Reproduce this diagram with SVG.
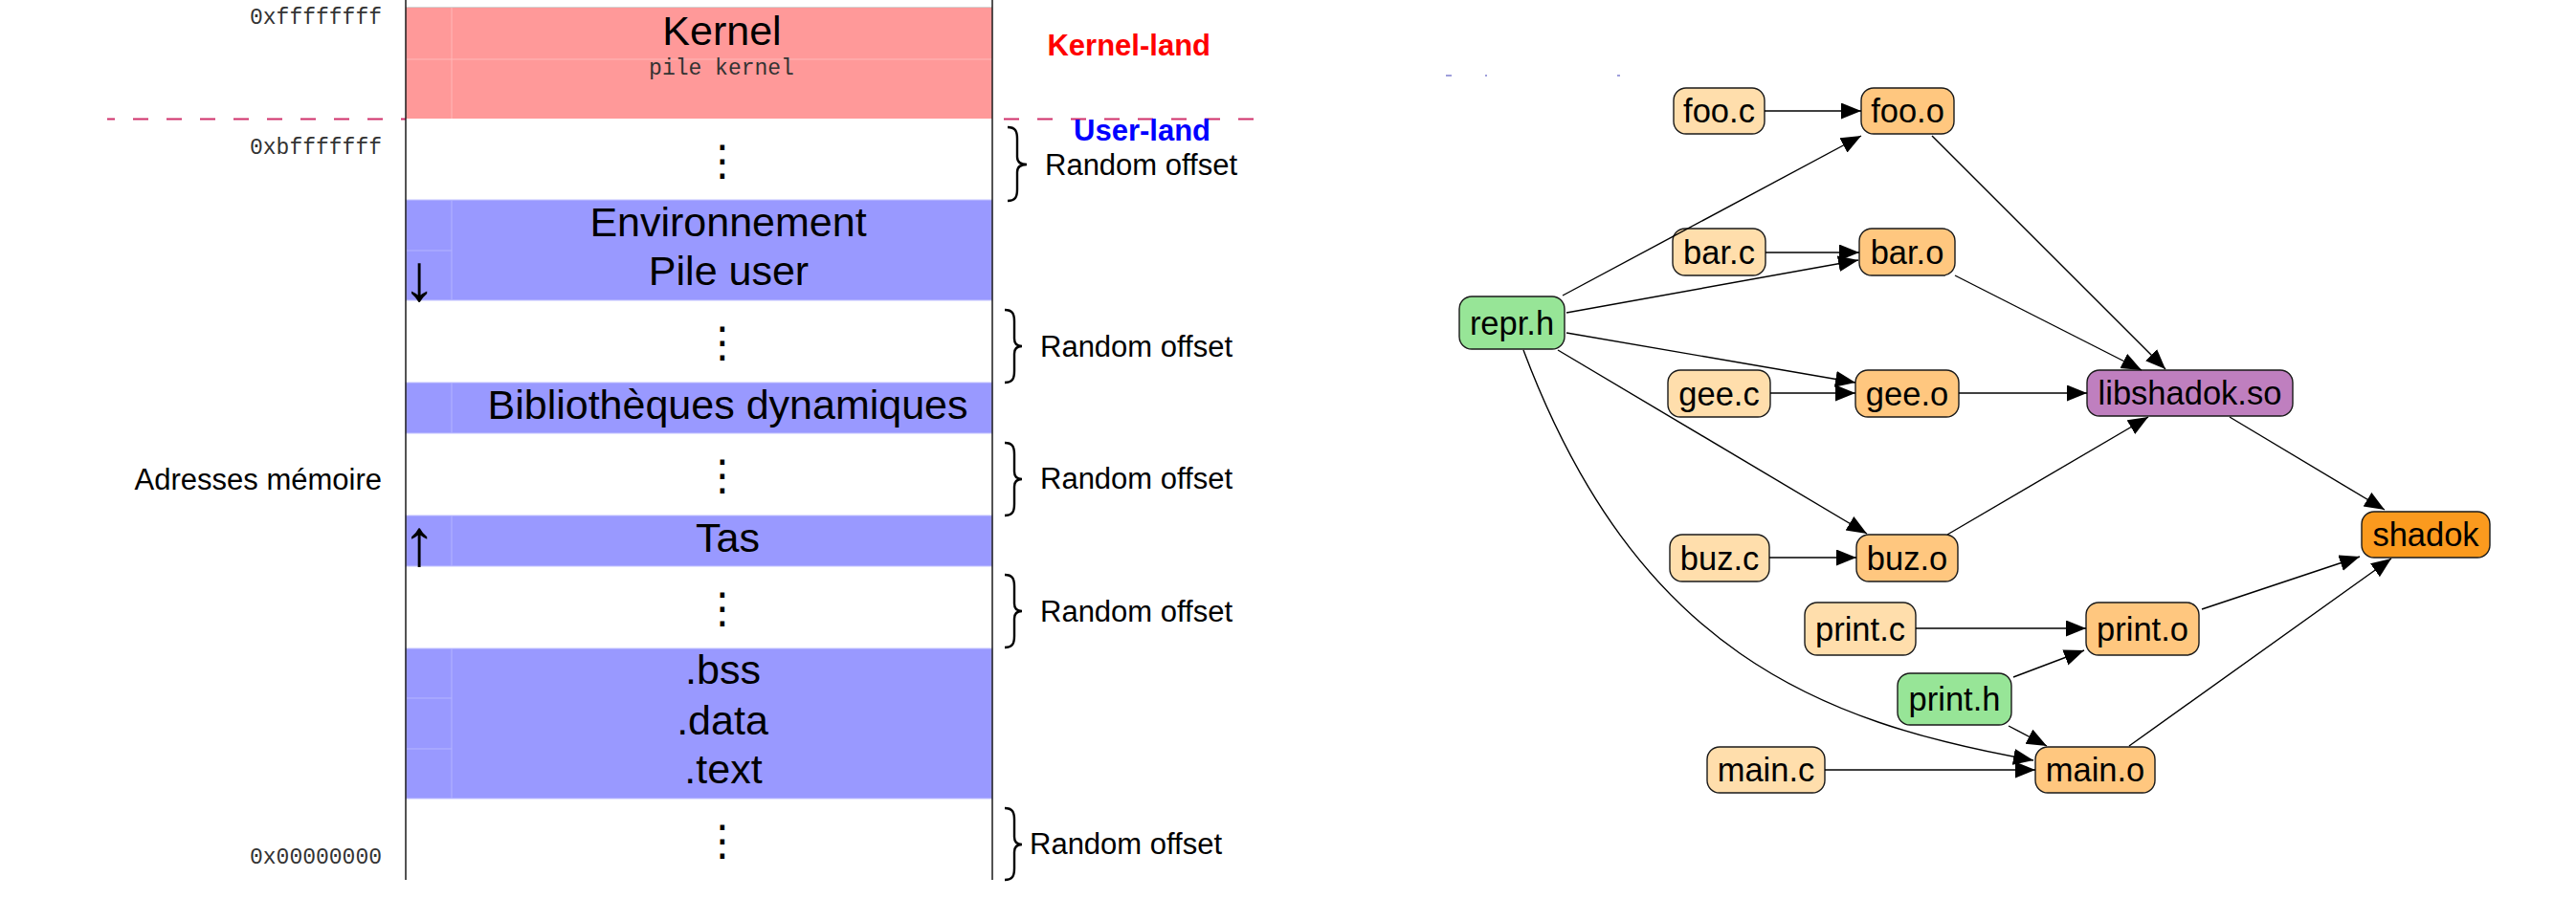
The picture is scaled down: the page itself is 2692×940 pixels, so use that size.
<svg xmlns="http://www.w3.org/2000/svg" width="2692" height="940" viewBox="0 0 2692 940">
<style>
.sans{font-family:"Liberation Sans",Arial,sans-serif;fill:#000}
.big{font-size:43px;text-anchor:middle}
.mono{font-family:"Liberation Mono","Courier New",monospace;font-size:23px;fill:#333}
.lbl{font-size:31px}
.land{font-size:31px;font-weight:bold;text-anchor:end}
.dots{font-family:"DejaVu Sans",sans-serif;font-size:44px;text-anchor:middle}
.arr{font-family:"Liberation Serif","DejaVu Serif",serif;font-size:69px;text-anchor:middle}
.brace{fill:none;stroke:#000;stroke-width:2.4}
.kern{fill:#ff9999}
.blue{fill:#9999ff;stroke:#c4c4ff;stroke-width:1}
.faintk{stroke:#ffb8b8;stroke-width:1}
.faintb{stroke:#b4b4ff;stroke-width:1}
.node rect{stroke:#1a1a1a;stroke-width:1.4}
.node text{font-family:"Liberation Sans",Arial,sans-serif;font-size:34.5px;text-anchor:middle;fill:#000}
.src rect{fill:#ffdeac}
.obj rect{fill:#ffc77f}
.hdr rect{fill:#97e597}
.lib rect{fill:#bf7fbf}
.exe rect{fill:#fb9a1e}
.edge{fill:none;stroke:#000;stroke-width:1.4;marker-end:url(#ah)}
</style>
<defs>
<marker id="ah" markerUnits="userSpaceOnUse" markerWidth="22" markerHeight="18" refX="21" refY="8.5" orient="auto" viewBox="0 0 22 18">
<path d="M0,0 L21,8.5 L0,17 z" fill="#000"/>
</marker>
</defs>
<rect x="0" y="0" width="2692" height="940" fill="#fff"/>

<!-- ===== Memory layout ===== -->
<g id="memory-layout">
  <line x1="112" y1="124.5" x2="1320" y2="124.5" stroke="#d0306a" stroke-width="2" stroke-dasharray="16 19" stroke-dashoffset="8"/>
  <rect x="424" y="8" width="613" height="912" fill="#fff"/>
  <line x1="424" y1="8" x2="1037" y2="8" stroke="#c4c4c4" stroke-width="1.5"/>

  <g id="row-kernel">
    <rect class="kern" x="424" y="8" width="613" height="116"/>
    <line class="faintk" x1="472" y1="8" x2="472" y2="124"/>
    <line class="faintk" x1="424" y1="62" x2="1037" y2="62"/>
    <text class="sans big" x="754.5" y="47">Kernel</text>
    <text class="mono" x="754" y="78" text-anchor="middle">pile kernel</text>
  </g>

  <g id="row-gap1"><text class="dots" x="755" y="183">⋮</text></g>

  <g id="row-env">
    <rect class="blue" x="424" y="209" width="613" height="105"/>
    <line class="faintb" x1="472" y1="209" x2="472" y2="314"/>
    <line class="faintb" x1="424" y1="262" x2="472" y2="262"/>
    <text class="sans big" x="761" y="247">Environnement</text>
    <text class="sans big" x="761.5" y="298">Pile user</text>
    <text class="arr" x="438" y="314">↓</text>
  </g>

  <g id="row-gap2"><text class="dots" x="755" y="373">⋮</text></g>

  <g id="row-lib">
    <rect class="blue" x="424" y="400" width="613" height="53"/>
    <line class="faintb" x1="472" y1="400" x2="472" y2="453"/>
    <text class="sans big" x="760.5" y="438">Bibliothèques dynamiques</text>
  </g>

  <g id="row-gap3"><text class="dots" x="755" y="512">⋮</text></g>

  <g id="row-heap">
    <rect class="blue" x="424" y="539" width="613" height="53"/>
    <line class="faintb" x1="472" y1="539" x2="472" y2="592"/>
    <text class="sans big" x="760.5" y="577">Tas</text>
    <text class="arr" x="438" y="591">↑</text>
  </g>

  <g id="row-gap4"><text class="dots" x="755" y="651">⋮</text></g>

  <g id="row-sections">
    <rect class="blue" x="424" y="678" width="613" height="157"/>
    <line class="faintb" x1="472" y1="678" x2="472" y2="835"/>
    <line class="faintb" x1="424" y1="730" x2="472" y2="730"/>
    <line class="faintb" x1="424" y1="783" x2="472" y2="783"/>
    <text class="sans big" x="755.5" y="715">.bss</text>
    <text class="sans big" x="755" y="768">.data</text>
    <text class="sans big" x="756" y="819">.text</text>
  </g>

  <g id="row-gap5"><text class="dots" x="755" y="894">⋮</text></g>

  <line x1="424" y1="0" x2="424" y2="920" stroke="#1a1a1a" stroke-width="1.5"/>
  <line x1="1037" y1="0" x2="1037" y2="920" stroke="#1a1a1a" stroke-width="1.5"/>

  <g id="addresses">
    <text class="mono" x="399" y="25" text-anchor="end">0xffffffff</text>
    <text class="mono" x="399" y="161" text-anchor="end">0xbfffffff</text>
    <text class="mono" x="399" y="903" text-anchor="end">0x00000000</text>
    <text class="sans lbl" x="399" y="512" text-anchor="end">Adresses mémoire</text>
  </g>

  <g id="lands">
    <text class="sans land" x="1265" y="58" style="fill:#ff0000">Kernel-land</text>
    <text class="sans land" x="1265" y="147" style="fill:#0000ff">User-land</text>
  </g>

  <g id="offsets">
    <path class="brace" d="M1053,133 C1061,133 1063,137 1063,145 L1063,164 C1063,169 1066,172 1073,172 C1066,172 1063,175 1063,180 L1063,198 C1063,206 1061,210 1053,210"/>
    <text class="sans lbl" x="1092" y="183">Random offset</text>
    <path class="brace" d="M1050,324 C1058,324 1060,328 1060,336 L1060,354 C1060,359 1063,362 1068,362 C1063,362 1060,365 1060,370 L1060,388 C1060,396 1058,400 1050,400"/>
    <text class="sans lbl" x="1087" y="373">Random offset</text>
    <path class="brace" d="M1050,463 C1058,463 1060,467 1060,475 L1060,493 C1060,498 1063,501 1068,501 C1063,501 1060,504 1060,509 L1060,527 C1060,535 1058,539 1050,539"/>
    <text class="sans lbl" x="1087" y="511">Random offset</text>
    <path class="brace" d="M1050,601 C1058,601 1060,605 1060,613 L1060,631 C1060,636 1063,639 1068,639 C1063,639 1060,642 1060,647 L1060,665 C1060,673 1058,677 1050,677"/>
    <text class="sans lbl" x="1087" y="650">Random offset</text>
    <path class="brace" d="M1050,845 C1058,845 1060,849 1060,857 L1060,875 C1060,880 1063,883 1068,883 C1063,883 1060,886 1060,891 L1060,908 C1060,916 1058,920 1050,920"/>
    <text class="sans lbl" x="1076" y="893">Random offset</text>
  </g>
</g>

<!-- faint artifact -->
<path d="M1511,79 h6 M1552,79 h2 M1690,79 h3" stroke="#8080d0" stroke-width="1.5" fill="none"/>

<!-- ===== Build graph ===== -->
<g id="n-foo-c" class="node src"><rect x="1749" y="92" width="95" height="48" rx="13"/><text x="1796.5" y="128">foo.c</text></g>
<g id="n-foo-o" class="node obj"><rect x="1945" y="92" width="97" height="48" rx="13"/><text x="1993.5" y="128">foo.o</text></g>
<g id="n-bar-c" class="node src"><rect x="1748" y="239" width="97" height="49" rx="13"/><text x="1796.5" y="276">bar.c</text></g>
<g id="n-bar-o" class="node obj"><rect x="1943" y="239" width="100" height="49" rx="13"/><text x="1993" y="276">bar.o</text></g>
<g id="n-repr-h" class="node hdr"><rect x="1525" y="310" width="110" height="55" rx="13"/><text x="1580" y="350">repr.h</text></g>
<g id="n-gee-c" class="node src"><rect x="1743" y="387" width="107" height="49" rx="13"/><text x="1796.5" y="424">gee.c</text></g>
<g id="n-gee-o" class="node obj"><rect x="1939" y="387" width="108" height="49" rx="13"/><text x="1993" y="424">gee.o</text></g>
<g id="n-libshadok" class="node lib"><rect x="2181" y="387" width="215" height="48" rx="13"/><text x="2288.5" y="423">libshadok.so</text></g>
<g id="n-shadok" class="node exe"><rect x="2468" y="535" width="134" height="48" rx="13"/><text x="2535" y="571">shadok</text></g>
<g id="n-buz-c" class="node src"><rect x="1745" y="559" width="104" height="49" rx="13"/><text x="1797" y="596">buz.c</text></g>
<g id="n-buz-o" class="node obj"><rect x="1940" y="559" width="106" height="49" rx="13"/><text x="1993" y="596">buz.o</text></g>
<g id="n-print-c" class="node src"><rect x="1886" y="630" width="116" height="55" rx="13"/><text x="1944" y="670">print.c</text></g>
<g id="n-print-o" class="node obj"><rect x="2180" y="630" width="118" height="55" rx="13"/><text x="2239" y="670">print.o</text></g>
<g id="n-print-h" class="node hdr"><rect x="1983" y="704" width="119" height="54" rx="13"/><text x="2042.5" y="743">print.h</text></g>
<g id="n-main-c" class="node src"><rect x="1784" y="781" width="123" height="48" rx="13"/><text x="1845.5" y="817">main.c</text></g>
<g id="n-main-o" class="node obj"><rect x="2127" y="781" width="125" height="48" rx="13"/><text x="2189.5" y="817">main.o</text></g>

<g id="connectors">
  <path class="edge" d="M1844,116 L1945,116"/>
  <path class="edge" d="M1845,264 L1943,264"/>
  <path class="edge" d="M1850,411 L1939,411"/>
  <path class="edge" d="M1849,583 L1940,583"/>
  <path class="edge" d="M2002,657 L2180,657"/>
  <path class="edge" d="M1907,805 L2127,805"/>
  <path class="edge" d="M2047,411 L2181,411"/>
  <path class="edge" d="M1633,309 L1945,142"/>
  <path class="edge" d="M1637,327 L1942,272"/>
  <path class="edge" d="M1637,348 L1939,400"/>
  <path class="edge" d="M1628,366 L1951,558"/>
  <path class="edge" d="M1592,366 C1710,680 1900,755 2125,795"/>
  <path class="edge" d="M2019,142 L2263,386"/>
  <path class="edge" d="M2043,288 L2238,387"/>
  <path class="edge" d="M2035,559 L2245,436"/>
  <path class="edge" d="M2330,436 L2492,533"/>
  <path class="edge" d="M2301,637 L2466,582"/>
  <path class="edge" d="M2225,780 L2499,584"/>
  <path class="edge" d="M2104,708 L2178,680"/>
  <path class="edge" d="M2099,759 L2139,780"/>
</g>
</svg>
